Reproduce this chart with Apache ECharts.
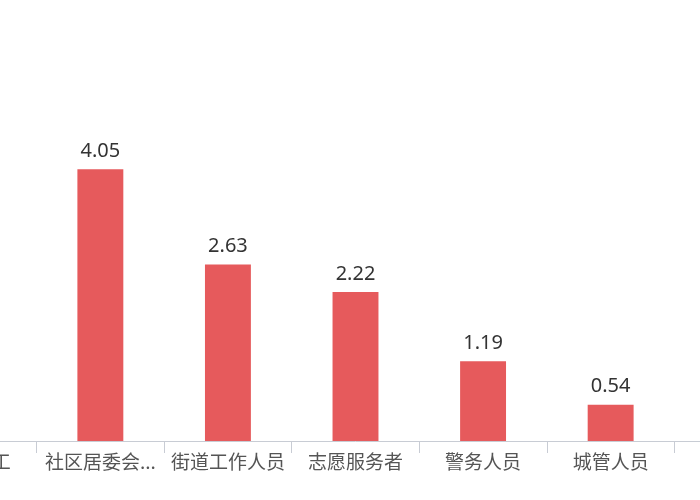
<!DOCTYPE html>
<html>
<head>
<meta charset="utf-8">
<script src="https://cdn.jsdelivr.net/npm/echarts@6/dist/echarts.min.js"></script>
<style>
html,body{margin:0;padding:0;background:#fff;overflow:hidden;width:700px;height:500px;}
#wrap{position:relative;width:700px;height:500px;overflow:hidden;}
#c{position:absolute;left:-150px;top:0;width:1000px;height:500px;}
</style>
</head>
<body>
<div id="wrap"><div id="c"></div></div>
<script>
var categories = ['物业员工', '社区居委会工作人员', '街道工作人员', '志愿服务者', '警务人员', '城管人员', '其他'];
var values = [5.6, 4.05, 2.63, 2.22, 1.19, 0.54, 0.3];
var yMin = 0, yMax = 6;

var chart = echarts.init(document.getElementById('c'));
chart.setOption({
  animation: false,
  grid: { left: 59, right: 48, top: 38.5, bottom: 59, containLabel: false },
  xAxis: {
    type: 'category',
    data: categories,
    axisLine: { lineStyle: { color: '#c8ccd4', width: 1 } },
    axisTick: { show: true, length: 12, lineStyle: { color: '#c8ccd4', width: 1 } },
    axisLabel: {
      interval: 0,
      color: '#555',
      fontSize: 19,
      margin: 11,
      width: 118,
      overflow: 'truncate',
      fontFamily: 'Noto Sans CJK SC'
    }
  },
  yAxis: {
    type: 'value',
    min: yMin,
    max: yMax,
    show: false,
    splitLine: { show: false }
  },
  series: [{
    type: 'bar',
    data: values,
    barWidth: '36%',
    itemStyle: { color: '#e65a5c' },
    label: {
      show: true,
      position: 'top',
      distance: 8,
      color: '#333',
      fontSize: 20,
      fontFamily: 'Noto Sans'
    }
  }]
});
</script>
</body>
</html>
